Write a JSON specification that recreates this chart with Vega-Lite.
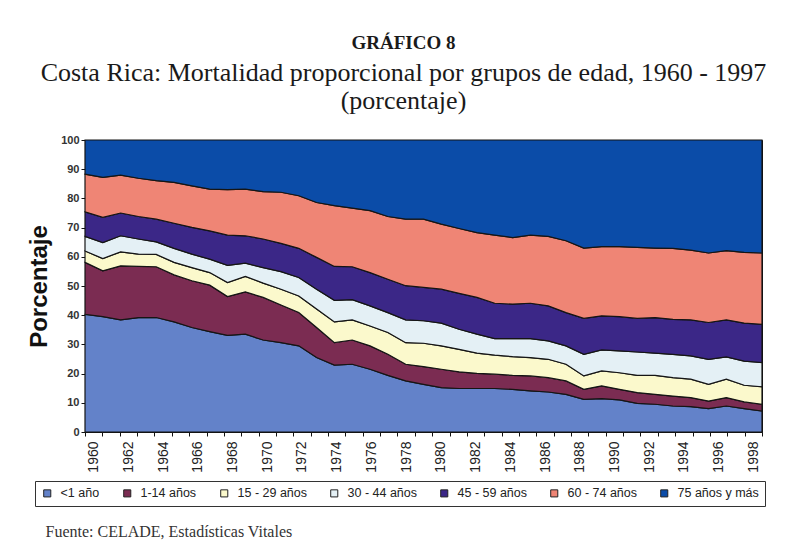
{
  "$schema": "https://vega.github.io/schema/vega-lite/v6.json",
  "width": 677,
  "height": 292,
  "autosize": "none",
  "padding": {"left": 85, "top": 140, "right": 25, "bottom": 110},
  "background": "white",
  "title": {
    "text": "GRÁFICO 8",
    "subtitle": ["Costa Rica:  Mortalidad proporcional por grupos de edad, 1960 - 1997", "(porcentaje)"],
    "font": "Liberation Serif",
    "fontSize": 19,
    "fontWeight": 600,
    "color": "#1a1a1a",
    "subtitleFont": "Liberation Serif",
    "subtitleFontSize": 26,
    "subtitleColor": "#1a1a1a",
    "subtitleLineHeight": 28,
    "subtitlePadding": 7,
    "anchor": "middle",
    "offset": 20,
    "dx": -20
  },
  "data": {"values": [
    {"a":1960,"g":"<1 año","k":1,"p":40.3},{"a":1960,"g":"1-14 años","k":2,"p":17.8},{"a":1960,"g":"15 - 29 años","k":3,"p":3.9},{"a":1960,"g":"30 - 44 años","k":4,"p":5.0},{"a":1960,"g":"45 - 59 años","k":5,"p":8.4},{"a":1960,"g":"60 - 74 años","k":6,"p":12.9},{"a":1960,"g":"75 años y más","k":7,"p":11.7},
    {"a":1961,"g":"<1 año","k":1,"p":39.5},{"a":1961,"g":"1-14 años","k":2,"p":15.7},{"a":1961,"g":"15 - 29 años","k":3,"p":4.2},{"a":1961,"g":"30 - 44 años","k":4,"p":5.5},{"a":1961,"g":"45 - 59 años","k":5,"p":8.6},{"a":1961,"g":"60 - 74 años","k":6,"p":13.7},{"a":1961,"g":"75 años y más","k":7,"p":12.8},
    {"a":1962,"g":"<1 año","k":1,"p":38.4},{"a":1962,"g":"1-14 años","k":2,"p":18.5},{"a":1962,"g":"15 - 29 años","k":3,"p":4.8},{"a":1962,"g":"30 - 44 años","k":4,"p":5.5},{"a":1962,"g":"45 - 59 años","k":5,"p":7.8},{"a":1962,"g":"60 - 74 años","k":6,"p":13.0},{"a":1962,"g":"75 años y más","k":7,"p":12.0},
    {"a":1963,"g":"<1 año","k":1,"p":39.2},{"a":1963,"g":"1-14 años","k":2,"p":17.5},{"a":1963,"g":"15 - 29 años","k":3,"p":4.2},{"a":1963,"g":"30 - 44 años","k":4,"p":5.2},{"a":1963,"g":"45 - 59 años","k":5,"p":7.7},{"a":1963,"g":"60 - 74 años","k":6,"p":13.1},{"a":1963,"g":"75 años y más","k":7,"p":13.1},
    {"a":1964,"g":"<1 año","k":1,"p":39.2},{"a":1964,"g":"1-14 años","k":2,"p":17.4},{"a":1964,"g":"15 - 29 años","k":3,"p":4.2},{"a":1964,"g":"30 - 44 años","k":4,"p":4.3},{"a":1964,"g":"45 - 59 años","k":5,"p":7.8},{"a":1964,"g":"60 - 74 años","k":6,"p":13.2},{"a":1964,"g":"75 años y más","k":7,"p":13.9},
    {"a":1965,"g":"<1 año","k":1,"p":37.7},{"a":1965,"g":"1-14 años","k":2,"p":16.1},{"a":1965,"g":"15 - 29 años","k":3,"p":4.3},{"a":1965,"g":"30 - 44 años","k":4,"p":4.8},{"a":1965,"g":"45 - 59 años","k":5,"p":8.6},{"a":1965,"g":"60 - 74 años","k":6,"p":14.0},{"a":1965,"g":"75 años y más","k":7,"p":14.5},
    {"a":1966,"g":"<1 año","k":1,"p":35.8},{"a":1966,"g":"1-14 años","k":2,"p":16.0},{"a":1966,"g":"15 - 29 años","k":3,"p":4.5},{"a":1966,"g":"30 - 44 años","k":4,"p":4.6},{"a":1966,"g":"45 - 59 años","k":5,"p":9.2},{"a":1966,"g":"60 - 74 años","k":6,"p":14.2},{"a":1966,"g":"75 años y más","k":7,"p":15.7},
    {"a":1967,"g":"<1 año","k":1,"p":34.4},{"a":1967,"g":"1-14 años","k":2,"p":15.9},{"a":1967,"g":"15 - 29 años","k":3,"p":4.3},{"a":1967,"g":"30 - 44 años","k":4,"p":4.6},{"a":1967,"g":"45 - 59 años","k":5,"p":9.7},{"a":1967,"g":"60 - 74 años","k":6,"p":14.3},{"a":1967,"g":"75 años y más","k":7,"p":16.8},
    {"a":1968,"g":"<1 año","k":1,"p":33.1},{"a":1968,"g":"1-14 años","k":2,"p":13.3},{"a":1968,"g":"15 - 29 años","k":3,"p":4.8},{"a":1968,"g":"30 - 44 años","k":4,"p":5.9},{"a":1968,"g":"45 - 59 años","k":5,"p":10.3},{"a":1968,"g":"60 - 74 años","k":6,"p":15.6},{"a":1968,"g":"75 años y más","k":7,"p":17.0},
    {"a":1969,"g":"<1 año","k":1,"p":33.5},{"a":1969,"g":"1-14 años","k":2,"p":14.5},{"a":1969,"g":"15 - 29 años","k":3,"p":5.3},{"a":1969,"g":"30 - 44 años","k":4,"p":4.5},{"a":1969,"g":"45 - 59 años","k":5,"p":9.4},{"a":1969,"g":"60 - 74 años","k":6,"p":16.0},{"a":1969,"g":"75 años y más","k":7,"p":16.8},
    {"a":1970,"g":"<1 año","k":1,"p":31.5},{"a":1970,"g":"1-14 años","k":2,"p":14.6},{"a":1970,"g":"15 - 29 años","k":3,"p":4.9},{"a":1970,"g":"30 - 44 años","k":4,"p":5.3},{"a":1970,"g":"45 - 59 años","k":5,"p":9.8},{"a":1970,"g":"60 - 74 años","k":6,"p":16.2},{"a":1970,"g":"75 años y más","k":7,"p":17.7},
    {"a":1971,"g":"<1 año","k":1,"p":30.6},{"a":1971,"g":"1-14 años","k":2,"p":12.9},{"a":1971,"g":"15 - 29 años","k":3,"p":5.4},{"a":1971,"g":"30 - 44 años","k":4,"p":6.0},{"a":1971,"g":"45 - 59 años","k":5,"p":9.7},{"a":1971,"g":"60 - 74 años","k":6,"p":17.5},{"a":1971,"g":"75 años y más","k":7,"p":17.9},
    {"a":1972,"g":"<1 año","k":1,"p":29.5},{"a":1972,"g":"1-14 años","k":2,"p":11.4},{"a":1972,"g":"15 - 29 años","k":3,"p":5.7},{"a":1972,"g":"30 - 44 años","k":4,"p":6.3},{"a":1972,"g":"45 - 59 años","k":5,"p":10.0},{"a":1972,"g":"60 - 74 años","k":6,"p":18.0},{"a":1972,"g":"75 años y más","k":7,"p":19.1},
    {"a":1973,"g":"<1 año","k":1,"p":25.5},{"a":1973,"g":"1-14 años","k":2,"p":10.3},{"a":1973,"g":"15 - 29 años","k":3,"p":6.3},{"a":1973,"g":"30 - 44 años","k":4,"p":6.8},{"a":1973,"g":"45 - 59 años","k":5,"p":10.9},{"a":1973,"g":"60 - 74 años","k":6,"p":18.8},{"a":1973,"g":"75 años y más","k":7,"p":21.4},
    {"a":1974,"g":"<1 año","k":1,"p":22.9},{"a":1974,"g":"1-14 años","k":2,"p":7.7},{"a":1974,"g":"15 - 29 años","k":3,"p":7.1},{"a":1974,"g":"30 - 44 años","k":4,"p":7.4},{"a":1974,"g":"45 - 59 años","k":5,"p":11.6},{"a":1974,"g":"60 - 74 años","k":6,"p":20.8},{"a":1974,"g":"75 años y más","k":7,"p":22.5},
    {"a":1975,"g":"<1 año","k":1,"p":23.2},{"a":1975,"g":"1-14 años","k":2,"p":8.3},{"a":1975,"g":"15 - 29 años","k":3,"p":6.9},{"a":1975,"g":"30 - 44 años","k":4,"p":6.9},{"a":1975,"g":"45 - 59 años","k":5,"p":11.3},{"a":1975,"g":"60 - 74 años","k":6,"p":20.1},{"a":1975,"g":"75 años y más","k":7,"p":23.3},
    {"a":1976,"g":"<1 año","k":1,"p":21.5},{"a":1976,"g":"1-14 años","k":2,"p":8.0},{"a":1976,"g":"15 - 29 años","k":3,"p":6.8},{"a":1976,"g":"30 - 44 años","k":4,"p":6.9},{"a":1976,"g":"45 - 59 años","k":5,"p":11.4},{"a":1976,"g":"60 - 74 años","k":6,"p":21.2},{"a":1976,"g":"75 años y más","k":7,"p":24.2},
    {"a":1977,"g":"<1 año","k":1,"p":19.4},{"a":1977,"g":"1-14 años","k":2,"p":7.2},{"a":1977,"g":"15 - 29 años","k":3,"p":7.5},{"a":1977,"g":"30 - 44 años","k":4,"p":6.8},{"a":1977,"g":"45 - 59 años","k":5,"p":11.4},{"a":1977,"g":"60 - 74 años","k":6,"p":21.5},{"a":1977,"g":"75 años y más","k":7,"p":26.2},
    {"a":1978,"g":"<1 año","k":1,"p":17.5},{"a":1978,"g":"1-14 años","k":2,"p":5.7},{"a":1978,"g":"15 - 29 años","k":3,"p":7.4},{"a":1978,"g":"30 - 44 años","k":4,"p":7.8},{"a":1978,"g":"45 - 59 años","k":5,"p":11.7},{"a":1978,"g":"60 - 74 años","k":6,"p":22.8},{"a":1978,"g":"75 años y más","k":7,"p":27.1},
    {"a":1979,"g":"<1 año","k":1,"p":16.3},{"a":1979,"g":"1-14 años","k":2,"p":6.1},{"a":1979,"g":"15 - 29 años","k":3,"p":8.0},{"a":1979,"g":"30 - 44 años","k":4,"p":7.7},{"a":1979,"g":"45 - 59 años","k":5,"p":11.4},{"a":1979,"g":"60 - 74 años","k":6,"p":23.4},{"a":1979,"g":"75 años y más","k":7,"p":27.1},
    {"a":1980,"g":"<1 año","k":1,"p":15.2},{"a":1980,"g":"1-14 años","k":2,"p":6.3},{"a":1980,"g":"15 - 29 años","k":3,"p":8.0},{"a":1980,"g":"30 - 44 años","k":4,"p":7.8},{"a":1980,"g":"45 - 59 años","k":5,"p":11.6},{"a":1980,"g":"60 - 74 años","k":6,"p":22.3},{"a":1980,"g":"75 años y más","k":7,"p":28.8},
    {"a":1981,"g":"<1 año","k":1,"p":14.9},{"a":1981,"g":"1-14 años","k":2,"p":5.7},{"a":1981,"g":"15 - 29 años","k":3,"p":7.7},{"a":1981,"g":"30 - 44 años","k":4,"p":6.9},{"a":1981,"g":"45 - 59 años","k":5,"p":12.3},{"a":1981,"g":"60 - 74 años","k":6,"p":22.2},{"a":1981,"g":"75 años y más","k":7,"p":30.3},
    {"a":1982,"g":"<1 año","k":1,"p":14.9},{"a":1982,"g":"1-14 años","k":2,"p":5.2},{"a":1982,"g":"15 - 29 años","k":3,"p":6.9},{"a":1982,"g":"30 - 44 años","k":4,"p":6.5},{"a":1982,"g":"45 - 59 años","k":5,"p":12.6},{"a":1982,"g":"60 - 74 años","k":6,"p":22.2},{"a":1982,"g":"75 años y más","k":7,"p":31.7},
    {"a":1983,"g":"<1 año","k":1,"p":14.9},{"a":1983,"g":"1-14 años","k":2,"p":4.9},{"a":1983,"g":"15 - 29 años","k":3,"p":6.5},{"a":1983,"g":"30 - 44 años","k":4,"p":5.7},{"a":1983,"g":"45 - 59 años","k":5,"p":12.1},{"a":1983,"g":"60 - 74 años","k":6,"p":23.3},{"a":1983,"g":"75 años y más","k":7,"p":32.6},
    {"a":1984,"g":"<1 año","k":1,"p":14.6},{"a":1984,"g":"1-14 años","k":2,"p":4.8},{"a":1984,"g":"15 - 29 años","k":3,"p":6.4},{"a":1984,"g":"30 - 44 años","k":4,"p":6.2},{"a":1984,"g":"45 - 59 años","k":5,"p":11.8},{"a":1984,"g":"60 - 74 años","k":6,"p":22.8},{"a":1984,"g":"75 años y más","k":7,"p":33.4},
    {"a":1985,"g":"<1 año","k":1,"p":14.1},{"a":1985,"g":"1-14 años","k":2,"p":5.1},{"a":1985,"g":"15 - 29 años","k":3,"p":6.3},{"a":1985,"g":"30 - 44 años","k":4,"p":6.5},{"a":1985,"g":"45 - 59 años","k":5,"p":12.1},{"a":1985,"g":"60 - 74 años","k":6,"p":23.3},{"a":1985,"g":"75 años y más","k":7,"p":32.6},
    {"a":1986,"g":"<1 año","k":1,"p":13.7},{"a":1986,"g":"1-14 años","k":2,"p":4.9},{"a":1986,"g":"15 - 29 años","k":3,"p":6.3},{"a":1986,"g":"30 - 44 años","k":4,"p":6.3},{"a":1986,"g":"45 - 59 años","k":5,"p":12.0},{"a":1986,"g":"60 - 74 años","k":6,"p":23.8},{"a":1986,"g":"75 años y más","k":7,"p":33.0},
    {"a":1987,"g":"<1 año","k":1,"p":12.9},{"a":1987,"g":"1-14 años","k":2,"p":4.6},{"a":1987,"g":"15 - 29 años","k":3,"p":5.7},{"a":1987,"g":"30 - 44 años","k":4,"p":6.3},{"a":1987,"g":"45 - 59 años","k":5,"p":11.4},{"a":1987,"g":"60 - 74 años","k":6,"p":24.6},{"a":1987,"g":"75 años y más","k":7,"p":34.5},
    {"a":1988,"g":"<1 año","k":1,"p":11.2},{"a":1988,"g":"1-14 años","k":2,"p":3.4},{"a":1988,"g":"15 - 29 años","k":3,"p":4.6},{"a":1988,"g":"30 - 44 años","k":4,"p":7.4},{"a":1988,"g":"45 - 59 años","k":5,"p":12.3},{"a":1988,"g":"60 - 74 años","k":6,"p":24.1},{"a":1988,"g":"75 años y más","k":7,"p":37.0},
    {"a":1989,"g":"<1 año","k":1,"p":11.4},{"a":1989,"g":"1-14 años","k":2,"p":4.4},{"a":1989,"g":"15 - 29 años","k":3,"p":5.1},{"a":1989,"g":"30 - 44 años","k":4,"p":7.2},{"a":1989,"g":"45 - 59 años","k":5,"p":11.7},{"a":1989,"g":"60 - 74 años","k":6,"p":23.7},{"a":1989,"g":"75 años y más","k":7,"p":36.5},
    {"a":1990,"g":"<1 año","k":1,"p":11.0},{"a":1990,"g":"1-14 años","k":2,"p":3.6},{"a":1990,"g":"15 - 29 años","k":3,"p":5.7},{"a":1990,"g":"30 - 44 años","k":4,"p":7.5},{"a":1990,"g":"45 - 59 años","k":5,"p":11.7},{"a":1990,"g":"60 - 74 años","k":6,"p":24.0},{"a":1990,"g":"75 años y más","k":7,"p":36.5},
    {"a":1991,"g":"<1 año","k":1,"p":9.8},{"a":1991,"g":"1-14 años","k":2,"p":3.7},{"a":1991,"g":"15 - 29 años","k":3,"p":5.9},{"a":1991,"g":"30 - 44 años","k":4,"p":8.0},{"a":1991,"g":"45 - 59 años","k":5,"p":11.5},{"a":1991,"g":"60 - 74 años","k":6,"p":24.3},{"a":1991,"g":"75 años y más","k":7,"p":36.8},
    {"a":1992,"g":"<1 año","k":1,"p":9.5},{"a":1992,"g":"1-14 años","k":2,"p":3.4},{"a":1992,"g":"15 - 29 años","k":3,"p":6.5},{"a":1992,"g":"30 - 44 años","k":4,"p":7.6},{"a":1992,"g":"45 - 59 años","k":5,"p":12.2},{"a":1992,"g":"60 - 74 años","k":6,"p":23.8},{"a":1992,"g":"75 años y más","k":7,"p":37.0},
    {"a":1993,"g":"<1 año","k":1,"p":8.9},{"a":1993,"g":"1-14 años","k":2,"p":3.4},{"a":1993,"g":"15 - 29 años","k":3,"p":6.3},{"a":1993,"g":"30 - 44 años","k":4,"p":8.0},{"a":1993,"g":"45 - 59 años","k":5,"p":12.0},{"a":1993,"g":"60 - 74 años","k":6,"p":24.3},{"a":1993,"g":"75 años y más","k":7,"p":37.1},
    {"a":1994,"g":"<1 año","k":1,"p":8.7},{"a":1994,"g":"1-14 años","k":2,"p":3.1},{"a":1994,"g":"15 - 29 años","k":3,"p":6.3},{"a":1994,"g":"30 - 44 años","k":4,"p":8.0},{"a":1994,"g":"45 - 59 años","k":5,"p":12.3},{"a":1994,"g":"60 - 74 años","k":6,"p":23.9},{"a":1994,"g":"75 años y más","k":7,"p":37.7},
    {"a":1995,"g":"<1 año","k":1,"p":8.0},{"a":1995,"g":"1-14 años","k":2,"p":2.6},{"a":1995,"g":"15 - 29 años","k":3,"p":5.7},{"a":1995,"g":"30 - 44 años","k":4,"p":8.6},{"a":1995,"g":"45 - 59 años","k":5,"p":12.6},{"a":1995,"g":"60 - 74 años","k":6,"p":23.8},{"a":1995,"g":"75 años y más","k":7,"p":38.7},
    {"a":1996,"g":"<1 año","k":1,"p":8.9},{"a":1996,"g":"1-14 años","k":2,"p":2.9},{"a":1996,"g":"15 - 29 años","k":3,"p":6.3},{"a":1996,"g":"30 - 44 años","k":4,"p":7.6},{"a":1996,"g":"45 - 59 años","k":5,"p":12.7},{"a":1996,"g":"60 - 74 años","k":6,"p":23.7},{"a":1996,"g":"75 años y más","k":7,"p":37.9},
    {"a":1997,"g":"<1 año","k":1,"p":8.0},{"a":1997,"g":"1-14 años","k":2,"p":2.3},{"a":1997,"g":"15 - 29 años","k":3,"p":5.7},{"a":1997,"g":"30 - 44 años","k":4,"p":8.3},{"a":1997,"g":"45 - 59 años","k":5,"p":13.0},{"a":1997,"g":"60 - 74 años","k":6,"p":24.2},{"a":1997,"g":"75 años y más","k":7,"p":38.5},
    {"a":1998,"g":"<1 año","k":1,"p":7.2},{"a":1998,"g":"1-14 años","k":2,"p":2.3},{"a":1998,"g":"15 - 29 años","k":3,"p":6.0},{"a":1998,"g":"30 - 44 años","k":4,"p":8.3},{"a":1998,"g":"45 - 59 años","k":5,"p":13.1},{"a":1998,"g":"60 - 74 años","k":6,"p":24.4},{"a":1998,"g":"75 años y más","k":7,"p":38.7}
  ]},
  "layer": [
    {
      "mark": {"type": "area", "stroke": "#151515", "strokeWidth": 1.2, "interpolate": "linear"},
      "encoding": {
        "x": {
          "field": "a",
          "type": "quantitative",
          "scale": {"domain": [1960, 1998], "nice": false, "zero": false},
          "axis": null
        },
        "y": {
          "field": "p",
          "type": "quantitative",
          "stack": "zero",
          "scale": {"domain": [0, 100], "nice": false},
          "axis": {
            "values": [0,10,20,30,40,50,60,70,80,90,100],
            "title": "Porcentaje",
            "titleFont": "Liberation Sans",
            "titleFontSize": 24,
            "titleFontWeight": "bold",
            "titleColor": "#111",
            "titlePadding": 9,
            "labelFont": "Liberation Sans",
            "labelFontSize": 11,
            "labelFontWeight": "bold",
            "labelColor": "#333",
            "tickColor": "#111",
            "tickSize": 4,
            "domainColor": "#111",
            "grid": false
          }
        },
        "color": {
          "field": "g",
          "type": "nominal",
          "scale": {
            "domain": ["<1 año", "1-14 años", "15 - 29 años", "30 - 44 años", "45 - 59 años", "60 - 74 años", "75 años y más"],
            "range": ["#6382c9", "#7b2c52", "#fbf9cc", "#e4f0f5", "#3b2787", "#ef8575", "#0b4ca8"]
          },
          "legend": {
            "orient": "none",
            "legendX": -50,
            "legendY": 341,
            "direction": "horizontal",
            "columns": 7,
            "title": null,
            "strokeColor": "#333",
            "padding": 6,
            "columnPadding": 21,
            "symbolType": "square",
            "symbolSize": 50,
            "symbolStrokeColor": "#222",
            "symbolStrokeWidth": 1,
            "symbolOpacity": 1,
            "labelFont": "Liberation Sans",
            "labelFontSize": 12.5,
            "labelColor": "#222",
            "labelOffset": 7,
            "labelLimit": 200
          }
        },
        "order": {"field": "k", "type": "quantitative"}
      }
    },
    {
      "mark": {"type": "point", "opacity": 0},
      "encoding": {
        "x": {
          "field": "a",
          "type": "ordinal",
          "scale": {"type": "band", "paddingInner": 0, "paddingOuter": 0},
          "axis": {
            "orient": "bottom",
            "tickBand": "extent",
            "labelExpr": "datum.value % 2 == 0 ? datum.label : ''",
            "labelAngle": 270,
            "labelAlign": "right",
            "labelBaseline": "middle",
            "labelFont": "Liberation Sans",
            "labelFontSize": 14,
            "labelColor": "#222",
            "labelPadding": 5,
            "labelOverlap": false,
            "tickColor": "#111",
            "tickSize": 4,
            "domainColor": "#111",
            "grid": false,
            "title": "Fuente:  CELADE,  Estadísticas Vitales",
            "titleFont": "Liberation Serif",
            "titleFontSize": 16,
            "titleFontWeight": "normal",
            "titleColor": "#333",
            "titleAnchor": "start",
            "titleAlign": "left",
            "titleBaseline": "alphabetic",
            "titleX": -40,
            "titleY": 104
          }
        }
      }
    }
  ],
  "resolve": {"scale": {"x": "independent"}, "axis": {"x": "independent"}},
  "config": {
    "view": {"stroke": "#111", "strokeWidth": 1}
  }
}
